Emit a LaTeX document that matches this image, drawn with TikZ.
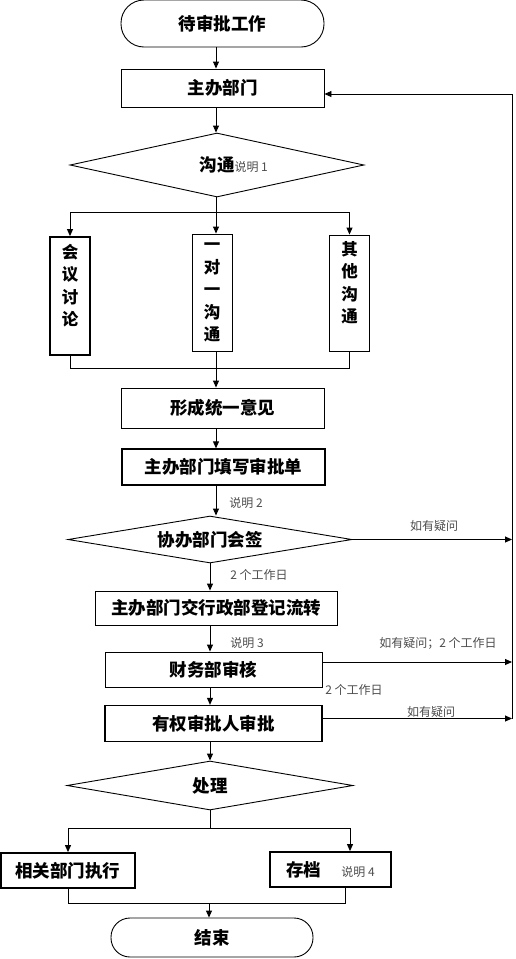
\documentclass[tikz,border=0pt]{standalone}
\usepackage{fontspec}
\setmainfont{Noto Sans CJK SC}
\usetikzlibrary{shapes.geometric,arrows.meta,calc}

\newcommand{\bigtxt}{\fontsize{17.5}{23.5}\selectfont\bfseries}
\newcommand{\coltxt}{\fontsize{16.5}{22.5}\selectfont\bfseries}
\newcommand{\notetxt}{\fontsize{12}{14}\selectfont\mdseries}

\tikzset{
  box/.style={draw, line width=0.9pt, inner sep=0pt, font=\bigtxt},
  thickbox/.style={box, line width=1.8pt},
  colbox/.style={box, minimum width=40pt, align=center, font=\coltxt},
  term/.style={box, rounded corners=19pt},
  decision/.style={draw, diamond, aspect=4.5, line width=0.9pt, inner sep=0pt, font=\bigtxt},
  note/.style={font=\notetxt, text=black!70, inner sep=0pt},
  flow/.style={-{Triangle[length=7pt,width=6pt]}, line width=0.9pt},
  link/.style={line width=0.9pt}
}

\begin{document}
\begin{tikzpicture}[x=1pt,y=-1pt]
\useasboundingbox (0,0) rectangle (516,959);

\coordinate (axisA) at (216,0);
\coordinate (axisB) at (210,0);

% steps
\node[term, rounded corners=23pt, minimum width=203pt, minimum height=47pt] (start) at (222.5,23.5) {待审批工作};
\node[box, minimum width=203pt, minimum height=38pt] (zhuban) at (222.5,88) {主办部门};
\node[decision, minimum width=294pt, minimum height=64pt] (goutong) at (217,165) {沟通\rlap{\notetxt\color{black!70}说明 1}};

\node[colbox, line width=1.8pt, minimum height=118pt] (huiyi) at (70,296) {会\\议\\讨\\论\\~};
\node[colbox, minimum height=117pt] (yidui) at (212,292.5) {一\\对\\一\\沟\\通};
\node[colbox, minimum height=116pt] (qita) at (349.5,293) {其\\他\\沟\\通\\~};

\node[box, minimum width=203pt, minimum height=40pt] (xingcheng) at (222.5,408) {形成统一意见};
\node[box, line width=1.3pt, minimum width=203pt, minimum height=36pt] (tianxie) at (223.5,467) {主办部门填写审批单};
\node[decision, minimum width=284pt, minimum height=47pt] (xieban) at (210,539.5) {协办部门会签};
\node[box, minimum width=242pt, minimum height=34pt] (xingzheng) at (216,608) {主办部门交行政部登记流转};
\node[box, minimum width=217pt, minimum height=35pt] (caiwu) at (213.5,669.5) {财务部审核};
\node[box, line width=1.3pt, minimum width=217pt, minimum height=36pt] (youquan) at (213.5,723.5) {有权审批人审批};
\node[decision, minimum width=286pt, minimum height=49pt] (chuli) at (210,785.5) {处理};
\node[thickbox, minimum width=134pt, minimum height=35pt] (xiangguan) at (68,870.5) {相关部门执行};
\node[thickbox, minimum width=121pt, minimum height=35pt] (cundang) at (330.5,869.5) {存档\hspace{20pt}{\notetxt\color{black!70}说明 4}};
\node[term, minimum width=202pt, minimum height=39pt] (end) at (212,937.5) {结束};

% notes
\node[note] (note2) at (246,503) {说明 2};
\node[note] (ask1) at (434,526) {如有疑问};
\node[note] (days1) at (259,575) {2 个工作日};
\node[note] (note3) at (247,643) {说明 3};
\node[note] (ask2) at (438,643) {如有疑问；2 个工作日};
\node[note] (days2) at (354,690) {2 个工作日};
\node[note] (ask3) at (431,712) {如有疑问};

% main flow
\draw[flow] (start.south -| axisA) -- (zhuban.north -| axisA);
\draw[flow] (zhuban.south -| axisA) -- (goutong.north -| axisA);
\coordinate (split1) at (216,212);
\draw[link] (goutong.south -| axisA) -- (split1);
\draw[flow] (split1) -| (huiyi.north);
\draw[flow] (split1) -| (qita.north);
\draw[flow] (split1) -- (split1 |- yidui.north);
\coordinate (merge1) at (216,368);
\draw[link] (huiyi.south) |- (merge1);
\draw[link] (qita.south) |- (merge1);
\draw[flow] (yidui.south -| axisA) -- (xingcheng.north -| axisA);
\draw[flow] (xingcheng.south -| axisA) -- (tianxie.north -| axisA);
\draw[flow] (tianxie.south -| axisA) -- (xieban.north -| axisA);
\draw[flow] (xieban.south -| axisB) -- (xingzheng.north -| axisB);
\draw[flow] (xingzheng.south -| axisB) -- (caiwu.north -| axisB);
\draw[flow] (caiwu.south -| axisB) -- (youquan.north -| axisB);
\draw[flow] (youquan.south -| axisB) -- (chuli.north -| axisB);
\coordinate (split2) at (210,828);
\draw[link] (chuli.south) -- (split2);
\draw[flow] (split2) -| (xiangguan.north);
\draw[flow] (split2) -| ($(cundang.north)+(19.5,0)$);
\coordinate (merge2) at (209,903);
\draw[link] (xiangguan.south) |- (merge2);
\draw[link] ($(cundang.south)+(14.5,0)$) |- (merge2);
\draw[flow] (merge2) -- (merge2 |- end.north);

% back to zhuban
\coordinate (fbtop) at (512,94);
\coordinate (fbbot) at (512,719);
\coordinate (caiwuout) at ($(caiwu.east)+(0,-7.5)$);
\coordinate (youquanout) at ($(youquan.east)+(0,-5)$);
\draw[flow] (fbbot) -- (fbtop) -- (fbtop -| zhuban.east);
\draw[flow] (xieban.east) -- (xieban.east -| fbtop);
\draw[flow] (caiwuout) -- (caiwuout -| fbtop);
\draw[flow] (youquanout) -- (youquanout -| fbtop);

\end{tikzpicture}
\end{document}
